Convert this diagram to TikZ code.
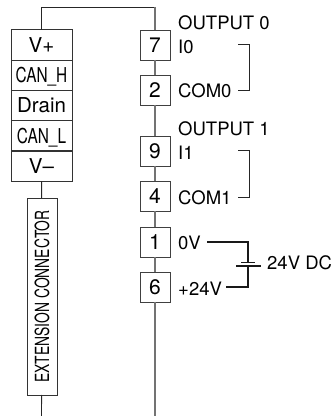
\documentclass[tikz,border=0pt]{standalone}
\usepackage{fontspec}
\usepackage{graphicx}
\setsansfont{TeX Gyre Heros}
\usetikzlibrary{arrows.meta}
\newcommand{\narrow}[1]{\scalebox{0.75}[1]{#1}}
\tikzset{
  pinbox/.style={draw=black!75,line width=0.9pt,minimum width=30pt,minimum height=30pt,inner sep=0pt,outer sep=0pt,font=\fontsize{21}{23}\sffamily,text height=15pt,text depth=0pt},
  busbox/.style={draw=black!80,line width=0.9pt,minimum width=61pt,minimum height=30.3pt,inner sep=0pt,outer sep=0pt,font=\fontsize{20.5}{23}\sffamily,text height=15pt,text depth=0pt},
  pinlabel/.style={anchor=west,inner sep=0pt,font=\fontsize{18.5}{20}\sffamily,text height=13pt,text depth=0pt,text=black},
  trunk/.style={draw=black!55,line width=1.1pt},
  wire/.style={draw=black!85,line width=0.9pt},
  supply/.style={draw=black!90,line width=1.1pt}
}

\begin{document}
\begin{tikzpicture}[x=1pt,y=1pt]
\useasboundingbox (0, 0) rectangle (335, 416);
\node[busbox] (vplus) at (41.5, 371) {V+};
\node[busbox] (canh) at (41.5, 340.5) {\narrow{CAN\_H}};
\node[busbox] (drain) at (41.5, 310.5) {Drain};
\node[busbox] (canl) at (41.5, 280) {\narrow{CAN\_L}};
\node[busbox] (vminus) at (41.5, 250) {V--};
\node[busbox,rotate=90,minimum width=197pt,minimum height=30pt,font=\fontsize{19.5}{22}\sffamily,text height=14pt] (ext) at (42, 119.5) {\scalebox{0.71}[1]{EXTENSION CONNECTOR}};
\node[pinbox] (seven) at (155, 371) {7};
\node[pinbox] (two) at (155, 326) {2};
\node[pinbox] (nine) at (155, 265) {9};
\node[pinbox] (four) at (155, 220) {4};
\node[pinbox] (one) at (155, 174) {1};
\node[pinbox] (six) at (155, 129) {6};
\node[pinlabel] (out0) at (178, 392.5) {OUTPUT 0};
\node[pinlabel] (i0) at (178, 369) {I0};
\node[pinlabel] (com0) at (178, 325) {COM0};
\node[pinlabel] (out1) at (178, 287) {OUTPUT 1};
\node[pinlabel] (i1) at (178, 263) {I1};
\node[pinlabel] (com1) at (178, 218) {COM1};
\node[pinlabel] (zero) at (178, 173) {0V};
\node[pinlabel] (plus) at (178, 127.5) {+24V};
\node[pinlabel] (dc) at (267, 153.3) {24V DC};
\coordinate (topl) at (41.5, 409);
\coordinate (topr) at (155, 409);
\coordinate (endl) at (41.5, 0);
\coordinate (endr) at (155, 0);
\coordinate (a0) at (238, 372);
\coordinate (b0) at (249, 372);
\coordinate (c0) at (249, 326);
\coordinate (d0) at (238, 326);
\coordinate (a1) at (238, 265.5);
\coordinate (b1) at (249, 265.5);
\coordinate (c1) at (249, 219);
\coordinate (d1) at (238, 219);
\coordinate (s0) at (207, 174);
\coordinate (s1) at (248, 174);
\coordinate (s2) at (248, 154);
\coordinate (s3) at (248, 150);
\coordinate (s4) at (248, 129);
\coordinate (s5) at (226, 129);
\coordinate (p0) at (241, 154);
\coordinate (p1) at (255, 154);
\coordinate (p2) at (236, 150);
\coordinate (p3) at (261, 150);
\draw [wire] (vplus) -- (topl) -- (topr);
\draw [trunk] (topr) -- (seven);
\draw [trunk] (seven) -- (two);
\draw [trunk] (two) -- (nine);
\draw [trunk] (nine) -- (four);
\draw [trunk] (four) -- (one);
\draw [trunk] (one) -- (six);
\draw [trunk] (six) -- (endr);
\draw [wire] (vminus) -- (ext);
\draw [wire] (ext) -- (endl);
\draw [wire] (a0) -- (b0) -- (c0) -- (d0);
\draw [wire] (a1) -- (b1) -- (c1) -- (d1);
\draw [supply] (s0) -- (s1) -- (s2);
\draw [supply] (s3) -- (s4) -- (s5);
\draw [supply,line width=0.9pt] (p0) -- (p1);
\draw [supply] (p2) -- (p3);
\end{tikzpicture}
\end{document}
